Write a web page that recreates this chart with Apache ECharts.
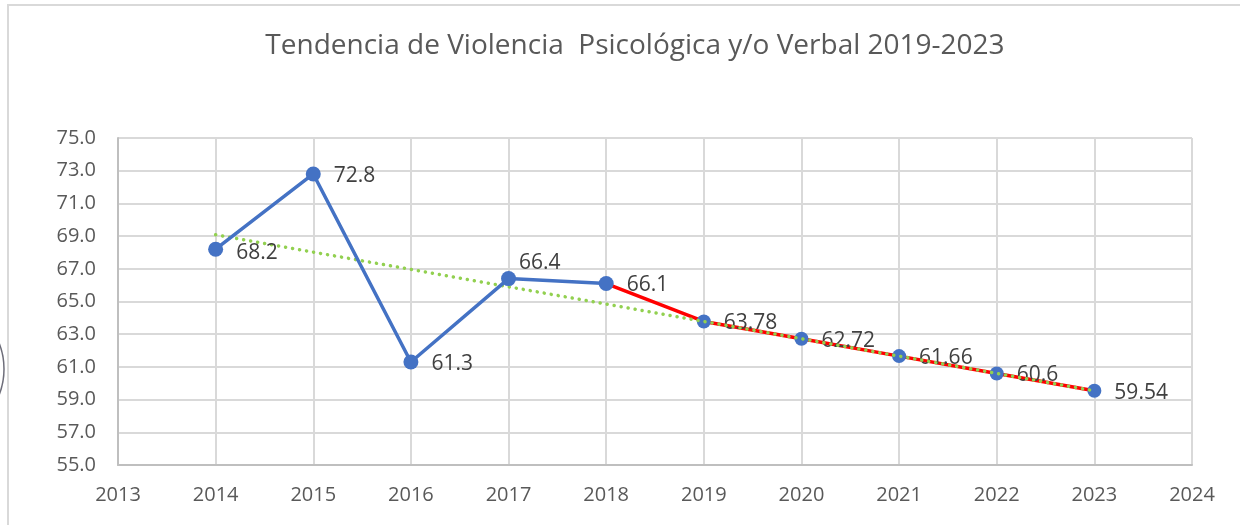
<!DOCTYPE html>
<html>
<head>
<meta charset="utf-8">
<style>
  html, body { margin: 0; padding: 0; background: #ffffff; }
  #chart { width: 1240px; height: 525px; }
</style>
<script src="https://cdn.jsdelivr.net/npm/echarts@6/dist/echarts.min.js"></script>
</head>
<body>
<div id="chart"></div>
<script>
// Recorded values 2014-2018
const obsYears = [2014, 2015, 2016, 2017, 2018];
const obsValues = [68.2, 72.8, 61.3, 66.4, 66.1];

// Projection 2019-2023 (starts from the last recorded year)
const projYears = [2018, 2019, 2020, 2021, 2022, 2023];
const projValues = [66.1, 63.78, 62.72, 61.66, 60.6, 59.54];

// Linear trend line end points
const trendYears = [2014, 2023];
const trendValues = [69.08, 59.54];

// Axis ranges
const xRange = [2013, 2024];
const yRange = [55, 75];

const titleText = 'Tendencia de Violencia  Psicológica y/o Verbal 2019-2023';

const BLUE = '#4472c4';
const RED = '#ff0000';
const GREEN = '#92d050';
const GRID = '#d9d9d9';
const FONT = '"Open Sans", "Liberation Sans", sans-serif';

const pairs = (xs, ys) => xs.map((x, i) => [x, ys[i]]);

// per-point label nudges (pixels)
const labelNudge = { 2014: [0, 4], 2017: [-10, -16] };

const labelStyle = {
  show: true,
  position: 'right',
  distance: 13,
  color: '#404040',
  fontFamily: FONT,
  fontSize: 21,
  offset: [0, 2],
  formatter: p => String(p.value[1])
};

const obsData = pairs(obsYears, obsValues).map(d => {
  const n = labelNudge[d[0]];
  return n ? { value: d, label: { offset: n } } : { value: d };
});

const projData = pairs(projYears, projValues).map((d, i) =>
  i === 0 ? { value: d, symbol: 'none', label: { show: false } } : { value: d }
);

const chart = echarts.init(document.getElementById('chart'), null, { renderer: 'canvas' });

chart.setOption({
  backgroundColor: '#ffffff',
  animation: false,
  title: {
    text: titleText,
    left: 630,
    top: 27,
    textAlign: 'center',
    textStyle: {
      color: '#595959',
      fontFamily: FONT,
      fontWeight: 'normal',
      fontSize: 28
    }
  },
  grid: { left: 118, right: 48, top: 138, bottom: 60, containLabel: false },
  xAxis: {
    type: 'value',
    min: xRange[0],
    max: xRange[1],
    interval: 1,
    axisLine: { show: true, onZero: false, lineStyle: { color: '#bfbfbf', width: 2 } },
    axisTick: { show: false },
    axisLabel: {
      color: '#595959',
      fontFamily: FONT,
      fontSize: 20,
      margin: 20,
      formatter: v => String(v)
    },
    splitLine: { show: true, lineStyle: { color: GRID, width: 2 } }
  },
  yAxis: {
    type: 'value',
    min: yRange[0],
    max: yRange[1],
    interval: 2,
    axisLine: { show: true, lineStyle: { color: '#bfbfbf', width: 2 } },
    axisTick: { show: false },
    axisLabel: {
      color: '#595959',
      fontFamily: FONT,
      fontSize: 20,
      margin: 22,
      formatter: v => v.toFixed(1)
    },
    splitLine: { show: true, lineStyle: { color: GRID, width: 2 } }
  },
  series: [
    {
      name: 'Proyección',
      type: 'line',
      z: 2,
      data: projData,
      symbol: 'circle',
      symbolSize: 14,
      itemStyle: { color: BLUE },
      lineStyle: { color: RED, width: 3.5 },
      label: labelStyle
    },
    {
      name: 'Tendencia',
      type: 'line',
      z: 3,
      data: pairs(trendYears, trendValues),
      symbol: 'none',
      lineStyle: { color: GREEN, width: 3.5, type: [0.1, 7], cap: 'round' },
      silent: true
    },
    {
      name: 'Violencia Psicológica y/o Verbal',
      type: 'line',
      z: 4,
      data: obsData,
      symbol: 'circle',
      symbolSize: 15,
      itemStyle: { color: BLUE },
      lineStyle: { color: BLUE, width: 3.5 },
      label: labelStyle
    }
  ],
  graphic: [
    {
      type: 'rect',
      silent: true,
      shape: { x: 8, y: 5, width: 1260, height: 560 },
      style: { fill: 'none', stroke: GRID, lineWidth: 2 }
    },
    {
      type: 'arc',
      silent: true,
      shape: { cx: -66, cy: 369, r: 70, startAngle: -0.6, endAngle: 0.6 },
      style: { fill: 'none', stroke: '#6e6e7a', lineWidth: 1.5 }
    }
  ]
});
</script>
</body>
</html>
